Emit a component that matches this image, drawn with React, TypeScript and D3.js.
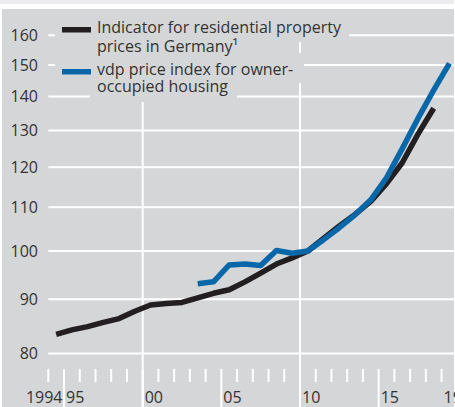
import { useEffect, useRef } from "react";
import * as d3 from "d3";

// annual values, plotted at mid-year (2010 = 100)
const indicatorYears = [
  1994, 1995, 1996, 1997, 1998, 1999, 2000, 2001, 2002, 2003, 2004, 2005, 2006,
  2007, 2008, 2009, 2010, 2011, 2012, 2013, 2014, 2015, 2016, 2017, 2018,
];
const indicatorValues = [
  83.4, 84.2, 84.8, 85.6, 86.3, 87.7, 88.9, 89.2, 89.4, 90.3, 91.2, 91.9, 93.5,
  95.3, 97.2, 98.5, 100, 102.8, 105.6, 108.3, 111.4, 115.8, 121.2, 129, 136.5,
];
const vdpYears = [
  2003, 2004, 2005, 2006, 2007, 2008, 2009, 2010, 2011, 2012, 2013, 2014, 2015,
  2016, 2017, 2018, 2019,
];
const vdpValues = [
  93.1, 93.5, 97.0, 97.2, 96.9, 100.1, 99.5, 100, 102.5, 105.2, 108.2, 111.8,
  117.3, 125, 133.5, 142, 150.5,
];

const yTicks = [80, 90, 100, 110, 120, 130, 140, 150, 160];
const xLabels = [
  { year: 1994, text: "1994" },
  { year: 1995, text: "95" },
  { year: 2000, text: "00" },
  { year: 2005, text: "05" },
  { year: 2010, text: "10" },
  { year: 2015, text: "15" },
  { year: 2019, text: "19" },
];
const legendItems = [
  { color: "#231f20", lines: ["Indicator for residential property", "prices in Germany\u00b9"] },
  { color: "#0867a8", lines: ["vdp price index for owner-", "occupied housing"] },
];

export default function App() {
  const svgRef = useRef<SVGSVGElement>(null);
  const width = 455;
  const height = 407;

  useEffect(() => {
    if (!svgRef.current) return;
    const svg = d3.select(svgRef.current);
    svg.selectAll("*").remove();

    const panel = "#d5d6d8";
    const font = "'Open Sans', sans-serif";
    const textColor = "#333333";

    const x = d3.scaleLinear().domain([1994, 2020]).range([48.3, 457.3]);
    const y = d3.scaleLog().domain([80, 160]).range([353.4, 35.3]);

    // background
    svg.append("rect").attr("width", width).attr("height", height).attr("fill", "#fff");
    svg.append("rect").attr("x", 0).attr("y", 0).attr("width", 454).attr("height", 4).attr("fill", "#ececee");
    svg.append("rect").attr("x", 2).attr("y", 9).attr("width", 452).attr("height", height - 9).attr("fill", panel);

    // grid
    const grid = svg.append("g").attr("stroke", "#fff").attr("stroke-width", 2);
    grid.selectAll("line.h")
      .data(yTicks)
      .enter()
      .append("line")
      .attr("x1", x(1994))
      .attr("x2", width)
      .attr("y1", d => y(d))
      .attr("y2", d => y(d));
    grid.selectAll("line.v")
      .data([2000, 2010])
      .enter()
      .append("line")
      .attr("x1", d => x(d))
      .attr("x2", d => x(d))
      .attr("y1", 9)
      .attr("y2", height);

    // year ticks
    grid.selectAll("line.t")
      .data(d3.range(1994, 2020))
      .enter()
      .append("line")
      .attr("x1", d => x(d))
      .attr("x2", d => x(d))
      .attr("y1", 369)
      .attr("y2", d => (d % 5 === 0 ? height : 382));

    // legend boxes hiding the grid behind the text
    const boxes = [
      { x0: 55, x1: 349, y0: 9, y1: 42 },
      { x0: 55, x1: 239, y0: 42, y1: 58 },
      { x0: 55, x1: 304, y0: 53, y1: 83 },
      { x0: 90, x1: 237, y0: 83, y1: 102 },
    ];
    svg.selectAll("rect.box")
      .data(boxes)
      .enter()
      .append("rect")
      .attr("x", d => d.x0)
      .attr("y", d => d.y0)
      .attr("width", d => d.x1 - d.x0)
      .attr("height", d => d.y1 - d.y0)
      .attr("fill", panel);

    const baselines = [[32.5, 51.5], [74.5, 92]];
    legendItems.forEach((item, i) => {
      svg.append("rect")
        .attr("x", 62)
        .attr("y", baselines[i][0] - 5.5)
        .attr("width", 29)
        .attr("height", 5.5)
        .attr("fill", item.color);
      item.lines.forEach((ln, j) => {
        svg.append("text")
          .attr("x", 97)
          .attr("y", baselines[i][j])
          .attr("font-family", font)
          .attr("font-size", 16)
          .attr("fill", textColor)
          .text(ln);
      });
    });

    // y labels
    svg.selectAll("text.yl")
      .data(yTicks)
      .enter()
      .append("text")
      .attr("x", 38)
      .attr("y", d => y(d))
      .attr("dy", "0.36em")
      .attr("text-anchor", "end")
      .attr("font-family", font)
      .attr("font-size", 16)
      .attr("fill", textColor)
      .text(d => d);

    // x labels
    svg.selectAll("text.xl")
      .data(xLabels)
      .enter()
      .append("text")
      .attr("x", d => (d.year === 1994 ? x(1995) - 1.5 : x(d.year) + 2))
      .attr("y", 403)
      .attr("text-anchor", d => (d.year === 1994 ? "end" : "start"))
      .attr("font-family", font)
      .attr("font-size", 16)
      .attr("fill", textColor)
      .text(d => d.text);

    const drawSeries = (years: number[], values: number[], color: string) => {
      const pts = years.map((yr, i) => [x(yr + 0.5), y(values[i])] as [number, number]);
      svg.append("path")
        .datum(pts)
        .attr("fill", "none")
        .attr("stroke", color)
        .attr("stroke-width", 5.5)
        .attr("stroke-linejoin", "round")
        .attr("d", d3.line());
    };

    drawSeries(indicatorYears, indicatorValues, legendItems[0].color);
    drawSeries(vdpYears, vdpValues, legendItems[1].color);
  }, []);

  return (
    <div style={{ position: "absolute", left: 0, top: 0 }}>
      <svg ref={svgRef} width={width} height={height} style={{ display: "block" }}></svg>
    </div>
  );
}
